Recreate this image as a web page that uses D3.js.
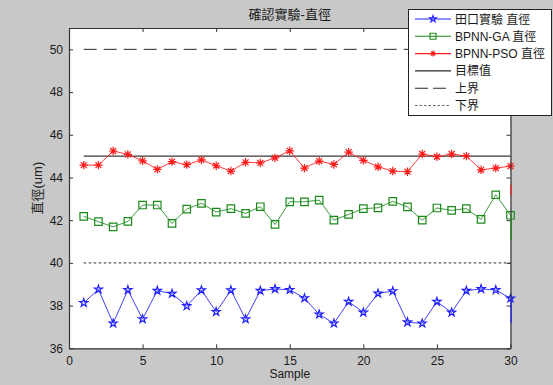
<!DOCTYPE html>
<html>
<head>
<meta charset="utf-8">
<script src="https://cdn.jsdelivr.net/npm/d3@7"></script>
<style>
  html, body { margin: 0; padding: 0; background: #c8c8c8; }
  svg { display: block; }
  text { font-family: "Liberation Sans", Arial, "Noto Sans CJK TC", sans-serif; fill: #1a1a1a; }
</style>
</head>
<body>
<svg id="chart" width="553" height="385"></svg>
<script>
// Confirmation run: diameter per sample, measured vs. two network predictions
const samples = d3.range(1, 31);

const taguchi = [38.13, 38.76, 37.17, 38.73, 37.37, 38.70, 38.56, 37.98, 38.72, 37.71,
                 38.72, 37.37, 38.70, 38.78, 38.74, 38.35, 37.59, 37.17, 38.18, 37.68,
                 38.57, 38.68, 37.22, 37.17, 38.18, 37.68, 38.70, 38.78, 38.73, 38.34];
const bpnnGA  = [42.18, 41.93, 41.69, 41.94, 42.71, 42.71, 41.85, 42.52, 42.79, 42.38,
                 42.54, 42.32, 42.63, 41.80, 42.86, 42.86, 42.94, 42.00, 42.27, 42.54,
                 42.58, 42.88, 42.62, 42.00, 42.57, 42.46, 42.54, 42.04, 43.19, 42.23];
const bpnnPSO = [44.58, 44.58, 45.24, 45.08, 44.78, 44.38, 44.74, 44.60, 44.82, 44.55,
                 44.30, 44.71, 44.68, 44.92, 45.25, 44.44, 44.77, 44.61, 45.19, 44.80,
                 44.50, 44.30, 44.27, 45.10, 44.97, 45.10, 45.00, 44.36, 44.44, 44.53];

// trailing segments of each trace along the right edge (x = 30)
const tailTaguchi = [38.34, 37.17];
const tailGA      = [42.23, 41.05];
const tailPSO     = [43.65, 43.18];

const target = 45, upper = 50, lower = 40;

const xTicks = [0, 5, 10, 15, 20, 25, 30];
const yTicks = [36, 38, 40, 42, 44, 46, 48, 50];

const legendLabels = ["田口實驗 直徑", "BPNN-GA 直徑", "BPNN-PSO 直徑", "目標值", "上界", "下界"];

const svg = d3.select("#chart");
const L = 69, R = 510.5, T = 28, B = 348.3;

const x = d3.scaleLinear().domain([0, 30]).range([L, R]);
const y = d3.scaleLinear().domain([36, 51]).range([B, T]);

// plot background
svg.append("rect").attr("x", L).attr("y", T).attr("width", R - L).attr("height", B - T)
  .attr("fill", "#fff");

// reference lines
const refs = [
  { v: upper, dash: "13,7", color: "#2a2a2a", w: 1 },
  { v: target, dash: null, color: "#3a3a3a", w: 1.3 },
  { v: lower, dash: "2.5,2.5", color: "#555", w: 1.2 }
];
refs.forEach(r => {
  svg.append("line")
    .attr("x1", x(1)).attr("x2", x(30))
    .attr("y1", y(r.v)).attr("y2", y(r.v))
    .attr("stroke", r.color).attr("stroke-width", r.w)
    .attr("stroke-dasharray", r.dash);
});

// marker shapes
function asterisk(r) {
  const p = d3.path();
  const d = r * Math.SQRT1_2;
  p.moveTo(-r, 0); p.lineTo(r, 0);
  p.moveTo(0, -r); p.lineTo(0, r);
  p.moveTo(-d, -d); p.lineTo(d, d);
  p.moveTo(-d, d); p.lineTo(d, -d);
  return p.toString();
}
const starPath = d3.symbol(d3.symbolStar, 20)();
const squarePath = d3.symbol(d3.symbolSquare, 56)();
const asteriskPath = asterisk(4.2);

const series = [
  { values: taguchi, tail: tailTaguchi, color: "#1f1fff", marker: starPath, fill: "none", mw: 1.2 },
  { values: bpnnGA, tail: tailGA, color: "#1a8a1a", marker: squarePath, fill: "none", mw: 1.2 },
  { values: bpnnPSO, tail: tailPSO, color: "#ff1a1a", marker: asteriskPath, fill: "none", mw: 1.2 }
];

const line = d3.line().x((d, i) => x(samples[i])).y(d => y(d));

series.forEach(s => {
  svg.append("path").datum(s.values)
    .attr("d", line)
    .attr("fill", "none")
    .attr("stroke", s.color)
    .attr("stroke-width", 1)
    .attr("stroke-opacity", 0.85);
  svg.selectAll(null).data(s.values).enter().append("path")
    .attr("transform", (d, i) => `translate(${x(samples[i])},${y(d)})`)
    .attr("d", s.marker)
    .attr("fill", s.fill)
    .attr("stroke", s.color)
    .attr("stroke-width", s.mw);
});

// axes frame with inward ticks
const g = svg.append("g");
g.append("g").attr("transform", `translate(0,${B})`)
  .call(d3.axisBottom(x).tickValues(xTicks).tickSizeInner(-4).tickSizeOuter(0).tickPadding(8));
g.append("g").attr("transform", `translate(0,${T})`)
  .call(d3.axisTop(x).tickValues(xTicks).tickSizeInner(-4).tickSizeOuter(0).tickFormat(""));
g.append("g").attr("transform", `translate(${L},0)`)
  .call(d3.axisLeft(y).tickValues(yTicks).tickSizeInner(-4).tickSizeOuter(0).tickPadding(6));
g.append("g").attr("transform", `translate(${R},0)`)
  .call(d3.axisRight(y).tickValues(yTicks).tickSizeInner(-4).tickSizeOuter(0).tickFormat(""));
g.selectAll(".domain").attr("stroke", "#333").attr("stroke-width", 1.2);
g.selectAll(".tick line").attr("stroke", "#333");
g.selectAll(".tick text").attr("font-size", 12).attr("fill", "#1a1a1a")
  .style("font-family", "'Liberation Sans', Arial, sans-serif");

// trailing segments along the right edge
series.forEach(s => {
  svg.append("line")
    .attr("x1", x(30) + 0.6).attr("x2", x(30) + 0.6)
    .attr("y1", y(s.tail[0])).attr("y2", y(s.tail[1]))
    .attr("stroke", s.color).attr("stroke-width", 1.2);
});

// titles
svg.append("text").attr("x", (L + R) / 2).attr("y", 19)
  .attr("text-anchor", "middle").attr("font-size", 13).text("確認實驗-直徑");
svg.append("text").attr("x", (L + R) / 2).attr("y", 378)
  .attr("text-anchor", "middle").attr("font-size", 12).text("Sample");
svg.append("text")
  .attr("transform", `translate(42,${(T + B) / 2}) rotate(-90)`)
  .attr("text-anchor", "middle").attr("font-size", 13)
  .style("fill", "#222").text("直徑(um)");

// legend
const lg = svg.append("g");
lg.append("rect").attr("x", 408.5).attr("y", 9.5).attr("width", 143).attr("height", 106)
  .attr("fill", "#fff").attr("stroke", "#222").attr("stroke-width", 1);
const legendItems = [
  { color: "#1f1fff", marker: d3.symbol(d3.symbolStar, 14)(), dash: null },
  { color: "#1a8a1a", marker: d3.symbol(d3.symbolSquare, 36)(), dash: null },
  { color: "#ff1a1a", marker: asterisk(3), dash: null },
  { color: "#2a2a2a", marker: null, dash: null },
  { color: "#2a2a2a", marker: null, dash: "13,5" },
  { color: "#666", marker: null, dash: "2.5,2" }
];
legendItems.forEach((it, i) => {
  const cy = 19 + i * 17.3;
  lg.append("line").attr("x1", 415).attr("x2", 451).attr("y1", cy).attr("y2", cy)
    .attr("stroke", it.color).attr("stroke-width", 1.1).attr("stroke-dasharray", it.dash);
  if (it.marker) {
    lg.append("path").attr("transform", `translate(433,${cy})`).attr("d", it.marker)
      .attr("fill", "none").attr("stroke", it.color).attr("stroke-width", 1.1);
  }
  lg.append("text").attr("x", 455).attr("y", cy + 4.5).attr("font-size", 12)
    .text(legendLabels[i]);
});
</script>
</body>
</html>
